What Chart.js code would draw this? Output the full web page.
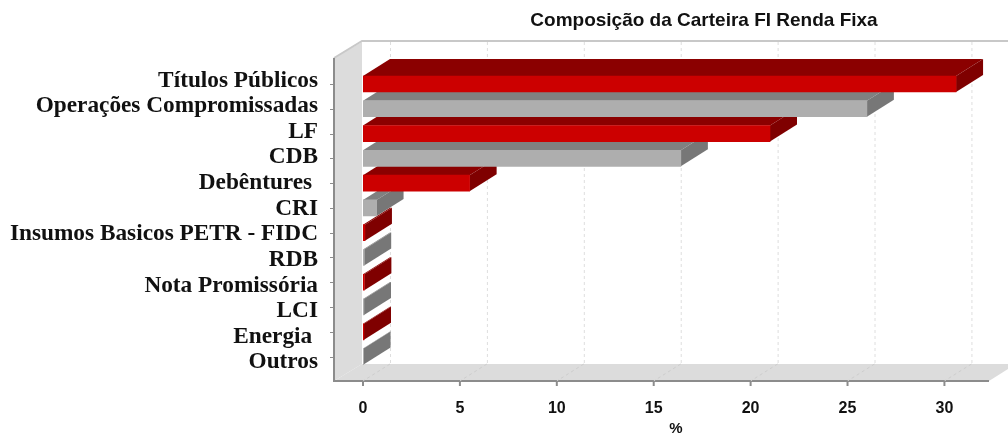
<!DOCTYPE html>
<html><head><meta charset="utf-8">
<style>html,body{margin:0;padding:0;background:#fff;overflow:hidden}canvas{display:block}</style>
<script src="https://cdn.jsdelivr.net/npm/chart.js@4"></script>
</head><body>
<div style="width:1008px;height:438px;position:relative"><canvas id="c"></canvas></div>
<script>
const categories = ["Títulos Públicos","Operações Compromissadas","LF","CDB","Debêntures ","CRI","Insumos Basicos PETR - FIDC","RDB","Nota Promissória","LCI","Energia ","Outros"];
const values = [30.6,26,21,16.4,5.5,0.7,0.1,0.06,0.07,0.05,0.05,0.03];
const xTicks = [0,5,10,15,20,25,30];
const chartTitle = "Composição da Carteira FI Renda Fixa";
const axisTitle = "%";
const front = ["#cc0000","#aeaeae"];
const top3d = ["#8b0000","#808080"];
const side3d = ["#7f0000","#777777"];
const DX = 27, DY = 17;

const scene = {
  id:"scene",
  afterLayout(chart){
    const t = chart.titleBlock; t.left = 431; t.right = 977;
    const s = chart.scales.yLabels;
    s.top = 67.75; s.bottom = 375.25; s.height = s.bottom - s.top;
    s.configure(); s._labelItems = null;
  },
  beforeDatasetsDraw(chart){
    const ctx = chart.ctx, x = chart.scales.x, y = chart.scales.y, a = chart.chartArea;
    const x0 = x.getPixelForValue(0), fy = a.bottom + 12, by = fy - DY, lx = x0 - 29;
    const poly = (p,c)=>{ctx.fillStyle=c;ctx.beginPath();p.forEach((q,i)=>i?ctx.lineTo(q[0],q[1]):ctx.moveTo(q[0],q[1]));ctx.closePath();ctx.fill();};
    ctx.save();
    poly([[lx,58],[lx+28,42],[lx+28,by],[lx,fy]],"#dcdcdc");
    poly([[lx,fy],[lx+28,by],[1016,by],[a.right,fy]],"#dcdcdc");
    ctx.strokeStyle="#c8c8c8";ctx.lineWidth=2;
    ctx.beginPath();ctx.moveTo(lx,58);ctx.lineTo(lx+28,41);ctx.lineTo(1008,41);ctx.stroke();
    ctx.strokeStyle="#8c8c8c";ctx.lineWidth=2;
    ctx.beginPath();ctx.moveTo(lx,58);ctx.lineTo(lx,fy);ctx.lineTo(a.right,fy);ctx.stroke();
    ctx.lineWidth=1;
    xTicks.forEach(v=>{
      const p=x.getPixelForValue(v);
      ctx.strokeStyle="#dedede";ctx.setLineDash([3,3]);
      ctx.beginPath();ctx.moveTo(p+DX+.5,42);ctx.lineTo(p+DX+.5,by);ctx.stroke();
      ctx.strokeStyle="#cdcdcd";
      ctx.beginPath();ctx.moveTo(p+DX,by);ctx.lineTo(p,fy);ctx.stroke();
      ctx.setLineDash([]);ctx.strokeStyle="#8c8c8c";ctx.lineWidth=2;
      ctx.beginPath();ctx.moveTo(p,fy);ctx.lineTo(p,fy+5);ctx.stroke();ctx.lineWidth=1;
    });
    categories.forEach((c,i)=>{
      const p=Math.round(y.getPixelForValue(i))+.5;
      ctx.strokeStyle="#8c8c8c";ctx.beginPath();ctx.moveTo(lx-4,p);ctx.lineTo(lx,p);ctx.stroke();
    });
    const bars = chart.getDatasetMeta(0).data;
    for(let i=bars.length-1;i>=0;i--){
      const b=bars[i],h=b.height/2,tp=b.y-h,bt=b.y+h,k=i%2;
      poly([[b.base,tp],[b.base+DX,tp-DY],[b.x+DX,tp-DY],[b.x,tp]],top3d[k]);
      poly([[b.x,tp],[b.x+DX,tp-DY],[b.x+DX,bt-DY],[b.x,bt]],side3d[k]);
    }
    ctx.restore();
  }
};

new Chart(document.getElementById("c"),{
  type:"bar",
  data:{labels:categories,datasets:[{data:values,backgroundColor:categories.map((c,i)=>front[i%2]),barThickness:16,borderWidth:0}]},
  options:{
    indexAxis:"y",responsive:true,maintainAspectRatio:false,animation:false,
    layout:{padding:{left:0,right:19,top:0,bottom:0}},
    plugins:{legend:{display:false},tooltip:{enabled:false},
      title:{display:true,text:chartTitle,color:"#111",fullSize:false,
        font:{family:"Liberation Sans",weight:"bold",size:19},padding:{top:9,bottom:39.8}}},
    scales:{
      x:{type:"linear",position:"bottom",min:0,max:32.3,afterFit(s){s.height=69;},
        afterBuildTicks(s){s.ticks=xTicks.map(v=>({value:v}));},
        grid:{display:false,drawTicks:false},border:{display:false},
        ticks:{padding:30,color:"#111",maxRotation:0,font:{family:"Liberation Sans",weight:"bold",size:16}},
        title:{display:true,text:axisTitle,color:"#111",padding:0,font:{family:"Liberation Sans",weight:"bold",size:15}}},
      y:{type:"category",position:"left",display:false,offset:true},
      yLabels:{type:"category",labels:categories,position:"left",offset:true,afterFit(s){s.width=363;},
        grid:{display:false,drawTicks:false},border:{display:false},
        ticks:{padding:45,color:"#111",autoSkip:false,font:{family:"Liberation Serif",weight:"bold",size:23.3}}}
    }
  },
  plugins:[scene]
});
</script>
</body></html>
